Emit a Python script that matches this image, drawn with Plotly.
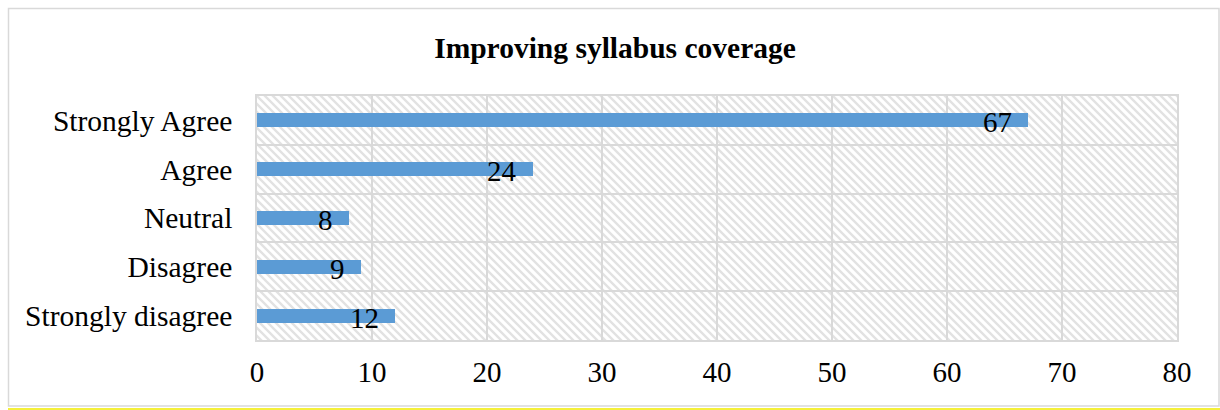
import base64
import plotly.graph_objects as go

# Survey responses
categories = ["Strongly disagree", "Disagree", "Neutral", "Agree", "Strongly Agree"]
counts = [12, 9, 8, 24, 67]
x_ticks = [0, 10, 20, 30, 40, 50, 60, 70, 80]

W, H = 1220, 410
ML, MR, MT, MB = 257, 43, 96, 70
PW, PH = W - ML - MR, H - MT - MB

FONT = "Liberation Serif, Times New Roman, serif"
GRID = "#D9D9D9"
BAR = "#5B9BD5"

# Diagonal hatch fill for the plotting area
svg = (
    f'<svg xmlns="http://www.w3.org/2000/svg" width="{PW}" height="{PH}" '
    f'viewBox="0 0 {PW} {PH}" preserveAspectRatio="none">'
    '<defs><pattern id="h" width="8" height="8" patternUnits="userSpaceOnUse">'
    '<path d="M-2,6 L2,10 M0,0 L8,8 M6,-2 L10,2" stroke="#E2E2E2" stroke-width="2.4"/>'
    '</pattern></defs>'
    f'<rect width="{PW}" height="{PH}" fill="url(#h)"/></svg>'
)
hatch_uri = "data:image/svg+xml;base64," + base64.b64encode(svg.encode()).decode()

ypos = list(range(len(categories)))

fig = go.Figure(
    go.Bar(
        x=counts,
        y=ypos,
        orientation="h",
        width=0.29,
        marker=dict(color=BAR, line=dict(width=0)),
        hoverinfo="skip",
    )
)

# Value labels, right-aligned just inside the end of each bar
for v, yi in zip(counts, ypos):
    fig.add_annotation(
        x=v, y=yi, text=str(v), showarrow=False,
        xanchor="right", yanchor="middle", xshift=-14, yshift=-2,
        font=dict(family=FONT, size=29, color="black"),
    )

# Outer frame and bottom accent line (paper coordinates from pixel positions)
def px_x(p):
    return (p - ML) / PW

def px_y(p):
    return (H - MB - p) / PH

fig.add_shape(type="rect", xref="paper", yref="paper",
              x0=px_x(8.5), x1=px_x(1219), y0=px_y(406), y1=px_y(8.5),
              line=dict(color="#D9D9D9", width=1.5), fillcolor="rgba(0,0,0,0)", layer="below")
fig.add_shape(type="line", xref="paper", yref="paper",
              x0=px_x(8), x1=px_x(1220), y0=px_y(409.5), y1=px_y(409.5),
              line=dict(color="#F5F03A", width=3))

fig.add_layout_image(
    source=hatch_uri, xref="paper", yref="paper", x=0, y=1, sizex=1, sizey=1,
    xanchor="left", yanchor="top", sizing="stretch", layer="below",
)

fig.update_layout(
    width=W, height=H,
    margin=dict(l=ML, r=MR, t=MT, b=MB, pad=0),
    paper_bgcolor="white",
    plot_bgcolor="rgba(0,0,0,0)",
    showlegend=False,
    bargap=0,
    title=dict(
        text="<b>Improving syllabus coverage</b>",
        x=(W / 2 + 5 - ML) / PW, xref="paper", xanchor="center",
        y=1 - 48 / H, yref="container", yanchor="middle",
        font=dict(family=FONT, size=29.5, color="black"),
    ),
    font=dict(family=FONT, size=29, color="black"),
)

fig.update_xaxes(
    range=[0, 80], tickvals=x_ticks, ticktext=[str(t) for t in x_ticks],
    showgrid=True, gridcolor=GRID, gridwidth=1.5,
    zeroline=False, showline=True, linecolor=GRID, linewidth=1.5, mirror=True,
    ticks="", ticklabelstandoff=5,
    tickfont=dict(family=FONT, size=29, color="black"),
    fixedrange=True,
)
fig.update_yaxes(
    range=[-0.5, 4.5], tickvals=ypos, ticktext=categories,
    showgrid=False, zeroline=False,
    showline=True, linecolor=GRID, linewidth=1.5, mirror=True,
    minor=dict(tick0=0.5, dtick=1, showgrid=True, gridcolor=GRID, gridwidth=1.5, ticks=""),
    ticks="", ticklabelstandoff=17,
    tickfont=dict(family=FONT, size=29.5, color="black"),
    fixedrange=True,
)

fig.write_html("out.html")
